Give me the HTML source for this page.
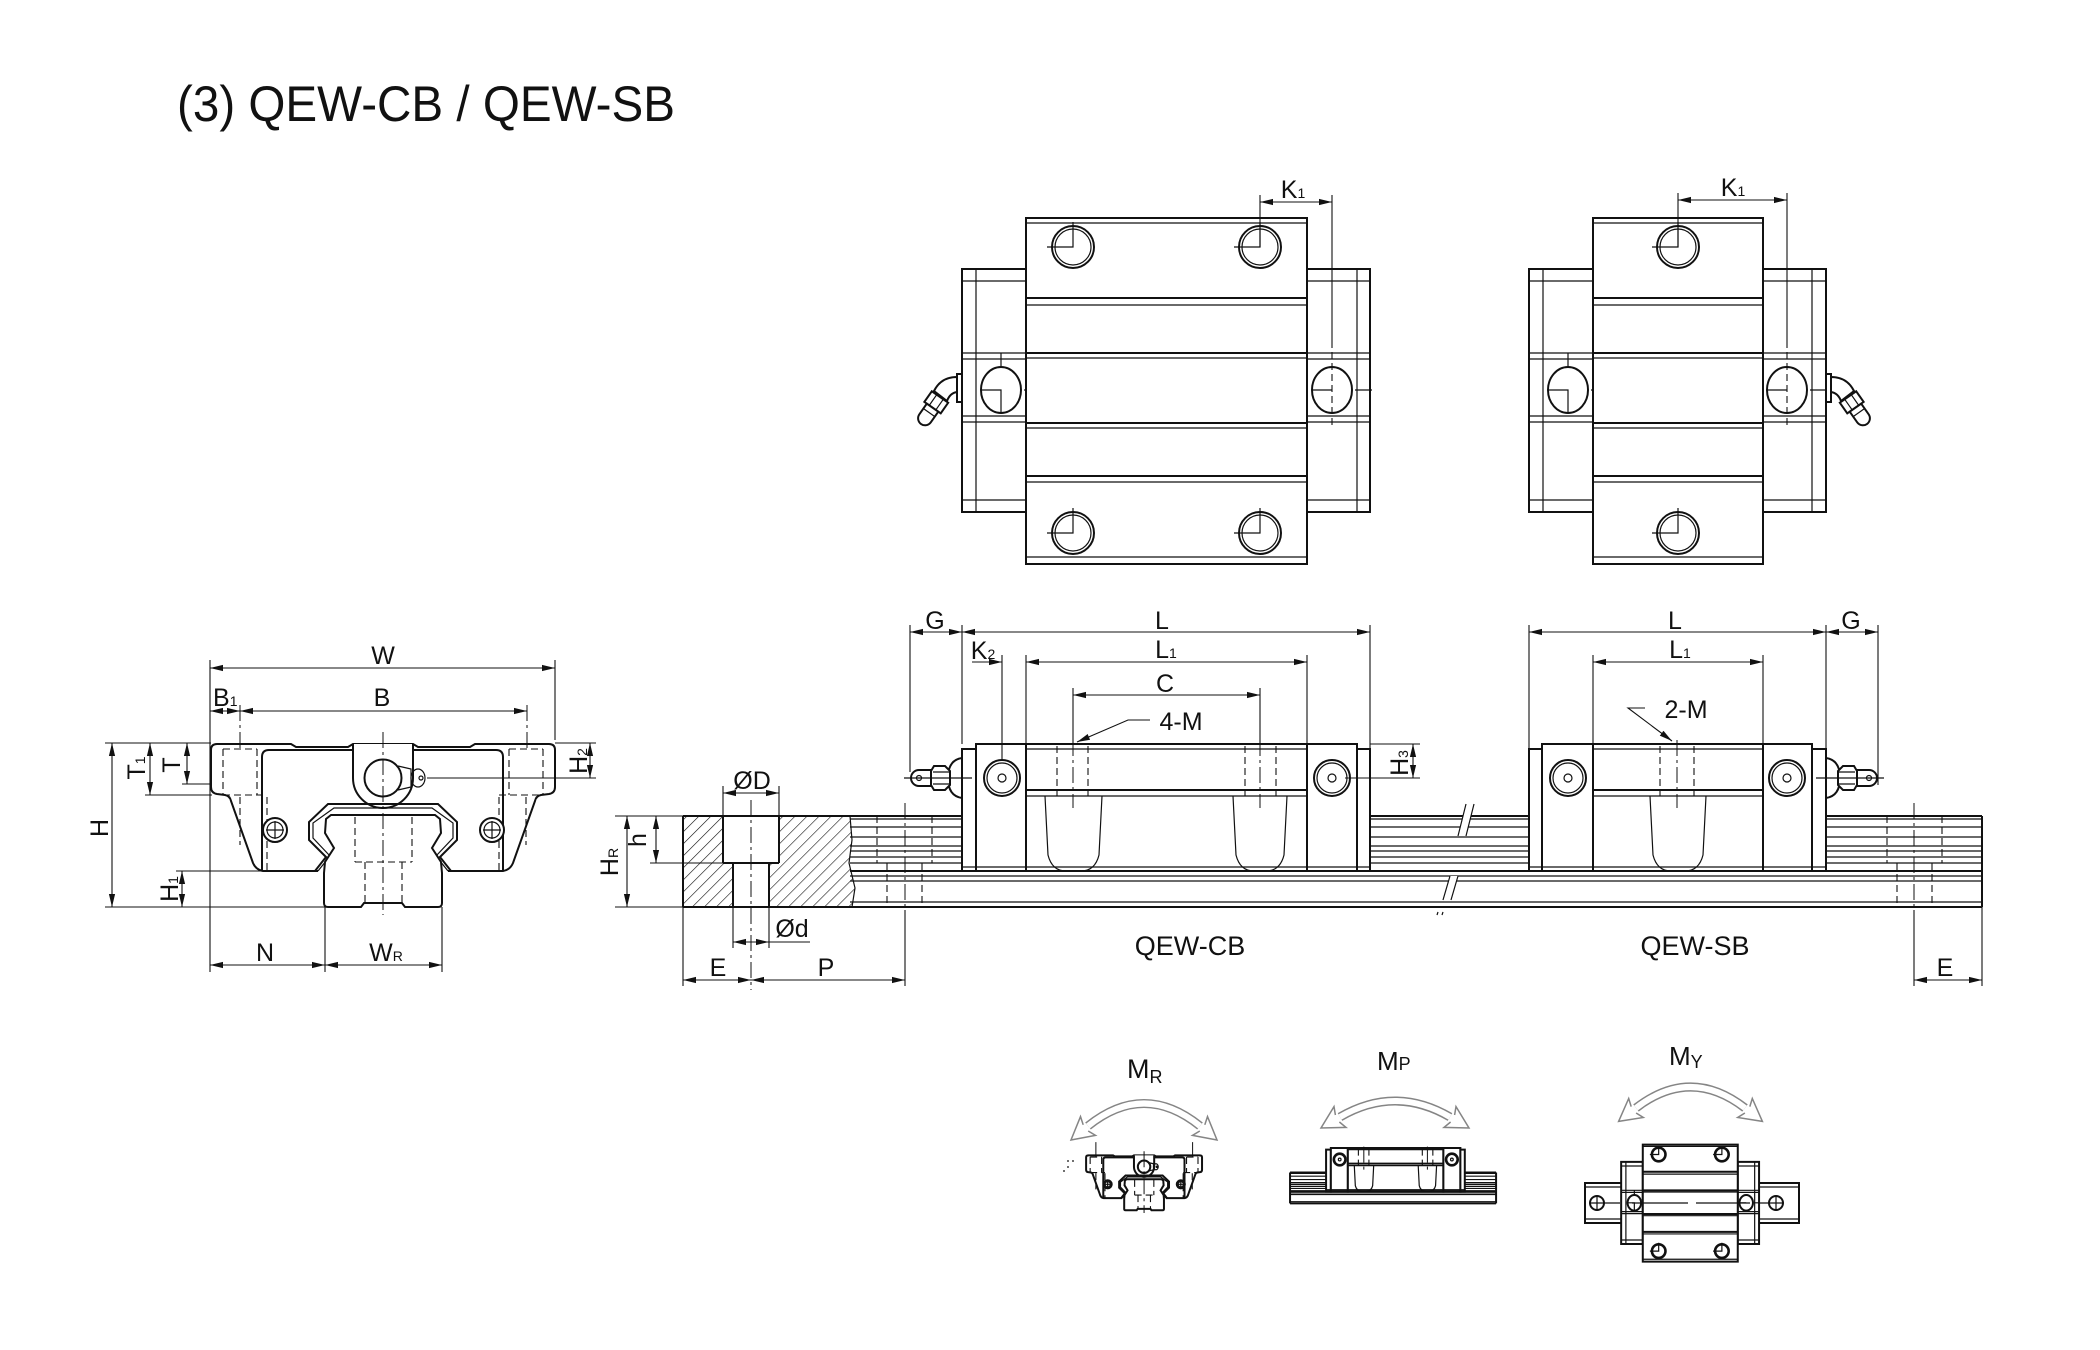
<!DOCTYPE html>
<html><head><meta charset="utf-8">
<style>
html,body{margin:0;padding:0;background:#fff;}
svg{display:block;}
text{font-family:"Liberation Sans",Arial,sans-serif;fill:#111;}
.o{fill:#fff;stroke:#111;stroke-width:2;vector-effect:non-scaling-stroke}
.l{fill:none;stroke:#111;stroke-width:2;vector-effect:non-scaling-stroke}
.t{fill:none;stroke:#111;stroke-width:1.2;vector-effect:non-scaling-stroke}
.d{fill:none;stroke:#111;stroke-width:1.1}
.h{fill:none;stroke:#111;stroke-width:1.1;stroke-dasharray:7 4;vector-effect:non-scaling-stroke}
.c{fill:none;stroke:#111;stroke-width:1;stroke-dasharray:16 4 3 4;vector-effect:non-scaling-stroke}
.lb{font-size:25px;}
.sb{font-size:14px;}
.ga{fill:none;stroke:#858585;stroke-width:9}
.gw{fill:none;stroke:#fff;stroke-width:6}
.gh{fill:#fff;stroke:#858585;stroke-width:1.5;stroke-linejoin:miter}
</style></head><body>
<svg width="2100" height="1350" viewBox="0 0 2100 1350" xmlns="http://www.w3.org/2000/svg">
<defs>
<marker id="a" markerUnits="userSpaceOnUse" markerWidth="14" markerHeight="8" refX="13" refY="4" orient="auto-start-reverse"><path d="M0,0.9 L13,4 L0,7.1 Z" fill="#111"/></marker>
<pattern id="hatch" patternUnits="userSpaceOnUse" width="8.5" height="8.5" patternTransform="rotate(45)"><line x1="0" y1="0" x2="0" y2="8.5" stroke="#111" stroke-width="1.2"/></pattern>

<!-- profile (end view) -->
<g id="prof">
<path class="o" d="M318,871 L263,871 Q256,870 253,863 L231,801 Q230,796 225,795 L217,794 Q211,793 211,787 L211,750 Q211,744 217,744 L291,744 L296,747 L348,747 L353,744 L413,744 L418,747 L470,747 L475,744 L549,744 Q555,744 555,750 L555,787 Q555,793 549,794 L541,795 Q536,796 535,801 L513,863 Q510,870 503,871 L448,871"/>
<path class="l" d="M262,870 L262,757 Q262,750 269,750 L496,750 Q503,750 503,757 L503,870"/>
<path class="h" d="M223,749V795 M257,749V795 M223,749H257 M223,795H267 M240,797V845 M267,797V870 M509,749V795 M543,749V795 M509,749H543 M499,795H543 M526,797V845 M499,797V870"/>
<path class="c" d="M240,705V750 M527,705V750"/>
<path class="o" d="M353,744 L353,778 A30,30 0 0 0 413,778 L413,744"/>
<circle class="o" cx="383" cy="778" r="18.5"/>
<path class="t" d="M398,766 L411,769 L411,787 L398,790"/>
<ellipse class="t" cx="418" cy="778" rx="7" ry="9"/>
<circle class="t" cx="421" cy="778" r="2"/>
<path class="l" d="M315,871 L326,857 L309,840 L309,822 L328,804 L438,804 L457,822 L457,840 L440,857 L451,871"/>
<path class="t" d="M318,871 L330,856 L313,838 L313,823 L334,808 L432,808 L453,823 L453,838 L436,856 L448,871"/>
<path class="o" d="M331,815 L435,815 L440,819 L441,833 L432,848 L441,862 L442,873 L442,903 Q442,907 438,907 L405,907 L402,903 L364,903 L361,907 L328,907 Q324,907 324,903 L324,873 L325,862 L334,848 L325,833 L326,819 Z"/>
<path class="h" d="M355,817V862 M412,817V862 M355,862H412 M365,862V903 M402,862V903"/>
<path class="c" d="M383,732V915"/>
<circle class="o" cx="275" cy="830" r="12"/>
<circle class="t" cx="275" cy="830" r="8"/>
<path class="t" d="M275,821V839 M266,830H284"/>
<circle class="o" cx="492" cy="830" r="12"/>
<circle class="t" cx="492" cy="830" r="8"/>
<path class="t" d="M492,821V839 M483,830H501"/>
</g>

<!-- CB carriage side view -->
<g id="cbcar">
<rect class="o" x="962" y="749" width="14" height="122"/>
<rect class="o" x="976" y="744" width="50" height="127"/>
<rect class="o" x="1026" y="744" width="281" height="127"/>
<rect class="o" x="1307" y="744" width="50" height="127"/>
<rect class="o" x="1357" y="749" width="13" height="122"/>
<path class="t" d="M1026,749H1307 M1026,796H1307 M962,867H1370"/>
<path class="l" d="M1026,790H1307"/>
<circle class="l" cx="1002" cy="778" r="18"/><circle class="t" cx="1002" cy="778" r="15"/><circle class="t" cx="1002" cy="778" r="4"/>
<circle class="l" cx="1332" cy="778" r="18"/><circle class="t" cx="1332" cy="778" r="15"/><circle class="t" cx="1332" cy="778" r="4"/>
<path class="t" d="M1045,796 L1048,855 Q1052,871 1066,871 L1081,871 Q1095,871 1099,855 L1102,796"/>
<path class="t" d="M1233,796 L1236,855 Q1240,871 1254,871 L1266,871 Q1280,871 1284,855 L1287,796"/>
<path class="h" d="M1057,746V796 M1088,746V796 M1245,746V796 M1276,746V796"/>
<path class="c" d="M1073,740V808 M1260,740V808"/>
</g>

<!-- CB top view -->
<g id="cbtop">
<rect class="o" x="962" y="269" width="64" height="243"/>
<rect class="o" x="1307" y="269" width="63" height="243"/>
<path class="t" d="M976,269V512 M1357,269V512 M962,281H1026 M962,353H1026 M962,359H1026 M962,416H1026 M962,422H1026 M962,500H1026 M1307,281H1370 M1307,353H1370 M1307,359H1370 M1307,416H1370 M1307,422H1370 M1307,500H1370"/>
<ellipse class="l" cx="1001" cy="390" rx="20" ry="23"/>
<ellipse class="l" cx="1332" cy="390" rx="20" ry="23"/>
<path class="t" d="M981,390H1001V412 M1001,353V367 M1024,390H1037 M1312,390H1332 M1355,390H1372"/>
<rect class="o" x="1026" y="218" width="281" height="346"/>
<path class="t" d="M1026,223H1307 M1026,305H1307 M1026,358H1307 M1026,428H1307 M1026,482H1307 M1026,557H1307"/>
<path class="l" d="M1026,298H1307 M1026,353H1307 M1026,423H1307 M1026,476H1307"/>
<circle class="l" cx="1073" cy="247" r="21"/><circle class="t" cx="1073" cy="247" r="18"/>
<circle class="l" cx="1260" cy="247" r="21"/><circle class="t" cx="1260" cy="247" r="18"/>
<circle class="l" cx="1073" cy="533" r="21"/><circle class="t" cx="1073" cy="533" r="18"/>
<circle class="l" cx="1260" cy="533" r="21"/><circle class="t" cx="1260" cy="533" r="18"/>
<path class="t" d="M1047,247H1073V222 M1234,247H1260V222 M1047,533H1073V508 M1234,533H1260V508"/>
</g>

<!-- side-view grease nipple (CB left) -->
<g id="nipS">
<path class="o" d="M962,758 Q948,760 948,778 Q948,796 962,798 Z"/>
<path class="o" d="M934,766 L945,766 L950,771 L950,785 L945,790 L934,790 L931,785 L931,771 Z"/>
<path class="t" d="M933,772H949 M933,784H949"/>
<path class="o" d="M931,770 L919,770 A8,8 0 0 0 919,786 L931,786 Z"/>
<circle class="t" cx="919" cy="778" r="2.5"/>
<path class="t" d="M904,778H972"/>
</g>

<!-- top-view grease nipple (CB left) -->
<g id="nipT">
<rect class="o" x="957" y="374" width="5" height="28"/>
<path class="o" d="M957,377 Q941,377 934,391 L947,401 Q950,393 957,392 Z"/>
<g transform="translate(940,397) rotate(125)">
<rect class="o" x="0" y="-10" width="13" height="20"/>
<path class="t" d="M0,-4H13 M0,4H13"/>
<path class="o" d="M13,-7 L26,-7 A7,7 0 0 1 26,7 L13,7 Z"/>
<path class="t" d="M19,-7V7"/>
</g>
</g>
</defs>

<!-- TITLE -->
<text x="177" y="121" font-size="50" textLength="498" lengthAdjust="spacingAndGlyphs">(3) QEW-CB / QEW-SB</text>

<!-- ================= PROFILE VIEW ================= -->
<use href="#prof"/>
<!-- profile dims -->
<path class="d" d="M210,660V972 M555,660V740 M105,743H211 M105,907H325 M145,795H212 M182,784H211 M176,871H263 M325,907V972 M442,907V972 M555,743H596 M427,778H596"/>
<line class="d" x1="210" y1="668" x2="555" y2="668" marker-start="url(#a)" marker-end="url(#a)"/>
<line class="d" x1="240" y1="711" x2="527" y2="711" marker-start="url(#a)" marker-end="url(#a)"/>
<line class="d" x1="210" y1="711" x2="240" y2="711" marker-start="url(#a)" marker-end="url(#a)"/>
<line class="d" x1="112" y1="743" x2="112" y2="907" marker-start="url(#a)" marker-end="url(#a)"/>
<line class="d" x1="150" y1="743" x2="150" y2="795" marker-start="url(#a)" marker-end="url(#a)"/>
<line class="d" x1="187" y1="743" x2="187" y2="784" marker-start="url(#a)" marker-end="url(#a)"/>
<line class="d" x1="182" y1="871" x2="182" y2="907" marker-start="url(#a)" marker-end="url(#a)"/>
<line class="d" x1="210" y1="965" x2="325" y2="965" marker-start="url(#a)" marker-end="url(#a)"/>
<line class="d" x1="325" y1="965" x2="442" y2="965" marker-start="url(#a)" marker-end="url(#a)"/>
<line class="d" x1="590" y1="743" x2="590" y2="778" marker-start="url(#a)" marker-end="url(#a)"/>
<text class="lb" x="383" y="664" text-anchor="middle">W</text>
<text class="lb" x="382" y="706" text-anchor="middle">B</text>
<text class="lb" x="213" y="706">B<tspan class="sb">1</tspan></text>
<text class="lb" transform="translate(108,828) rotate(-90)" text-anchor="middle">H</text>
<text class="lb" transform="translate(145,768) rotate(-90)" text-anchor="middle">T<tspan class="sb">1</tspan></text>
<text class="lb" transform="translate(180,765) rotate(-90)" text-anchor="middle">T</text>
<text class="lb" transform="translate(178,889) rotate(-90)" text-anchor="middle">H<tspan class="sb">1</tspan></text>
<text class="lb" transform="translate(587,761) rotate(-90)" text-anchor="middle">H<tspan class="sb">2</tspan></text>
<text class="lb" x="265" y="961" text-anchor="middle">N</text>
<text class="lb" x="386" y="961" text-anchor="middle">W<tspan class="sb">R</tspan></text>

<!-- ================= TOP VIEWS ================= -->
<use href="#cbtop"/>
<use href="#nipT"/>
<!-- K1 CB -->
<path class="d" d="M1260,195V247 M1332,195V348"/>
<path class="h" d="M1332,352V428"/>
<line class="d" x1="1260" y1="202" x2="1332" y2="202" marker-start="url(#a)" marker-end="url(#a)"/>
<text class="lb" x="1293" y="198" text-anchor="middle">K<tspan class="sb">1</tspan></text>

<!-- SB top view -->
<rect class="o" x="1529" y="269" width="64" height="243"/>
<rect class="o" x="1763" y="269" width="63" height="243"/>
<path class="t" d="M1543,269V512 M1812,269V512 M1529,281H1593 M1529,353H1593 M1529,359H1593 M1529,416H1593 M1529,422H1593 M1529,500H1593 M1763,281H1826 M1763,353H1826 M1763,359H1826 M1763,416H1826 M1763,422H1826 M1763,500H1826"/>
<ellipse class="l" cx="1568" cy="390" rx="20" ry="23"/>
<ellipse class="l" cx="1787" cy="390" rx="20" ry="23"/>
<path class="t" d="M1548,390H1568V412 M1568,353V367 M1591,390H1604 M1767,390H1787 M1810,390H1827"/>
<rect class="o" x="1593" y="218" width="170" height="346"/>
<path class="t" d="M1593,223H1763 M1593,305H1763 M1593,358H1763 M1593,428H1763 M1593,482H1763 M1593,557H1763"/>
<path class="l" d="M1593,298H1763 M1593,353H1763 M1593,423H1763 M1593,476H1763"/>
<circle class="l" cx="1678" cy="247" r="21"/><circle class="t" cx="1678" cy="247" r="18"/>
<circle class="l" cx="1678" cy="533" r="21"/><circle class="t" cx="1678" cy="533" r="18"/>
<path class="t" d="M1652,247H1678V222 M1652,533H1678V508"/>
<g transform="translate(2788,0) scale(-1,1)"><use href="#nipT"/></g>
<path class="d" d="M1678,193V247 M1787,193V348"/>
<path class="h" d="M1787,352V428"/>
<line class="d" x1="1678" y1="200" x2="1787" y2="200" marker-start="url(#a)" marker-end="url(#a)"/>
<text class="lb" x="1733" y="196" text-anchor="middle">K<tspan class="sb">1</tspan></text>

<!-- ================= SIDE VIEW ================= -->
<!-- rail lines -->
<path class="l" d="M850,816H1982 M850,871H1982 M850,907H1982 M1982,816V907"/>
<path class="t" d="M850,819H1982 M850,827H1982 M850,837H1982 M850,846H1982 M850,851H1982 M850,857H1982 M850,863H1982 M850,876H1982 M850,881H1982 M850,902H1982"/>
<!-- rail hidden holes -->
<path class="h" d="M877,816V863 M932,816V863 M877,863H932 M887,863V907 M922,863V907 M1887,816V863 M1942,816V863 M1887,863H1942 M1897,863V907 M1932,863V907"/>
<path class="c" d="M905,803V910 M1914,803V910"/>
<!-- break marks -->
<polygon points="1466,804 1474,804 1466,836 1458,836" fill="#fff"/>
<path class="t" d="M1466,804L1458,836 M1474,804L1466,836"/>
<polygon points="1450,876 1458,876 1451,900 1443,900" fill="#fff"/>
<path class="t" d="M1450,876L1443,900 M1458,876L1451,900"/>
<path class="t" d="M1438,912l-1,3 M1443,912l-1,3"/>

<!-- hatched section -->
<path d="M683,816 L850,816 L852,840 L849,863 L855,888 L852,907 L683,907 Z" fill="url(#hatch)"/>
<rect x="723" y="816" width="56" height="47" fill="#fff"/>
<rect x="733" y="862" width="36" height="45" fill="#fff"/>
<path class="l" d="M683,816H850 M683,907H852 M683,816V907"/>
<path class="t" d="M850,816 L852,840 L849,863 L855,888 L852,907"/>
<path class="l" d="M723,816V863 M779,816V863 M723,863H779 M733,863V907 M769,863V907"/>
<path class="c" d="M751,800V990"/>

<!-- CB carriage -->
<use href="#cbcar"/>
<use href="#nipS"/>
<!-- SB carriage -->
<rect class="o" x="1529" y="749" width="13" height="122"/>
<rect class="o" x="1542" y="744" width="51" height="127"/>
<rect class="o" x="1593" y="744" width="170" height="127"/>
<rect class="o" x="1763" y="744" width="49" height="127"/>
<rect class="o" x="1812" y="749" width="14" height="122"/>
<path class="t" d="M1593,749H1763 M1593,796H1763 M1529,867H1826"/>
<path class="l" d="M1593,790H1763"/>
<circle class="l" cx="1568" cy="778" r="18"/><circle class="t" cx="1568" cy="778" r="15"/><circle class="t" cx="1568" cy="778" r="4"/>
<circle class="l" cx="1787" cy="778" r="18"/><circle class="t" cx="1787" cy="778" r="15"/><circle class="t" cx="1787" cy="778" r="4"/>
<path class="t" d="M1650,796 L1653,855 Q1657,871 1671,871 L1685,871 Q1699,871 1703,855 L1706,796"/>
<path class="h" d="M1660,746V796 M1694,746V796"/>
<path class="c" d="M1677,740V808"/>
<g transform="translate(2788,0) scale(-1,1)"><use href="#nipS"/></g>

<!-- side dims CB -->
<path class="d" d="M910,625V772 M962,625V744 M1370,625V749 M1002,655V760 M1026,655V744 M1307,655V744 M1073,688V744 M1260,688V744 M1370,744H1420 M1345,778H1420"/>
<line class="d" x1="910" y1="632" x2="962" y2="632" marker-start="url(#a)" marker-end="url(#a)"/>
<line class="d" x1="962" y1="632" x2="1370" y2="632" marker-start="url(#a)" marker-end="url(#a)"/>
<line class="d" x1="972" y1="662" x2="1002" y2="662" marker-end="url(#a)"/>
<line class="d" x1="1026" y1="662" x2="1307" y2="662" marker-start="url(#a)" marker-end="url(#a)"/>
<line class="d" x1="1073" y1="695" x2="1260" y2="695" marker-start="url(#a)" marker-end="url(#a)"/>
<line class="d" x1="1413" y1="744" x2="1413" y2="778" marker-start="url(#a)" marker-end="url(#a)"/>
<polyline class="d" points="1150,720 1128,720 1077,742" marker-end="url(#a)"/>
<text class="lb" x="935" y="629" text-anchor="middle">G</text>
<text class="lb" x="1162" y="629" text-anchor="middle">L</text>
<text class="lb" x="983" y="659" text-anchor="middle">K<tspan class="sb">2</tspan></text>
<text class="lb" x="1166" y="658" text-anchor="middle">L<tspan class="sb">1</tspan></text>
<text class="lb" x="1165" y="692" text-anchor="middle">C</text>
<text class="lb" x="1181" y="730" text-anchor="middle">4-M</text>
<text class="lb" transform="translate(1408,763) rotate(-90)" text-anchor="middle">H<tspan class="sb">3</tspan></text>

<!-- side dims SB -->
<path class="d" d="M1529,625V749 M1826,625V749 M1878,625V785 M1593,655V744 M1763,655V744"/>
<line class="d" x1="1529" y1="632" x2="1826" y2="632" marker-start="url(#a)" marker-end="url(#a)"/>
<line class="d" x1="1826" y1="632" x2="1878" y2="632" marker-start="url(#a)" marker-end="url(#a)"/>
<line class="d" x1="1593" y1="662" x2="1763" y2="662" marker-start="url(#a)" marker-end="url(#a)"/>
<polyline class="d" points="1645,708 1628,708 1672,741" marker-end="url(#a)"/>
<text class="lb" x="1675" y="629" text-anchor="middle">L</text>
<text class="lb" x="1851" y="629" text-anchor="middle">G</text>
<text class="lb" x="1680" y="658" text-anchor="middle">L<tspan class="sb">1</tspan></text>
<text class="lb" x="1686" y="718" text-anchor="middle">2-M</text>

<!-- bottom dims -->
<path class="d" d="M615,816H683 M615,907H683 M650,863H723 M723,786V816 M779,786V816 M733,907V948 M769,907V948 M683,907V986 M905,910V986 M1914,910V986 M1982,907V986 M769,942H810"/>
<line class="d" x1="627" y1="816" x2="627" y2="907" marker-start="url(#a)" marker-end="url(#a)"/>
<line class="d" x1="656" y1="816" x2="656" y2="863" marker-start="url(#a)" marker-end="url(#a)"/>
<line class="d" x1="723" y1="793" x2="779" y2="793" marker-start="url(#a)" marker-end="url(#a)"/>
<line class="d" x1="733" y1="942" x2="769" y2="942" marker-start="url(#a)" marker-end="url(#a)"/>
<line class="d" x1="683" y1="980" x2="751" y2="980" marker-start="url(#a)" marker-end="url(#a)"/>
<line class="d" x1="751" y1="980" x2="905" y2="980" marker-start="url(#a)" marker-end="url(#a)"/>
<line class="d" x1="1914" y1="980" x2="1982" y2="980" marker-start="url(#a)" marker-end="url(#a)"/>
<text class="lb" transform="translate(618,862) rotate(-90)" text-anchor="middle">H<tspan class="sb">R</tspan></text>
<text class="lb" transform="translate(646,840) rotate(-90)" text-anchor="middle">h</text>
<text class="lb" x="752" y="789" text-anchor="middle">ØD</text>
<text class="lb" x="792" y="937" text-anchor="middle">Ød</text>
<text class="lb" x="718" y="976" text-anchor="middle">E</text>
<text class="lb" x="826" y="976" text-anchor="middle">P</text>
<text class="lb" x="1945" y="976" text-anchor="middle">E</text>
<text x="1190" y="955" font-size="27" text-anchor="middle">QEW-CB</text>
<text x="1695" y="955" font-size="27" text-anchor="middle">QEW-SB</text>

<!-- ================= MOMENT ICONS ================= -->
<!-- MR -->
<path class="ga" d="M1088,1126 Q1144,1081 1200,1126"/>
<path class="gw" d="M1088,1126 Q1144,1081 1200,1126"/>
<path class="gh" d="M1088.2,1131 L1095.5,1135.4 L1071,1140 L1080.5,1116.6 L1083.2,1124.8"/>
<path class="gh" d="M1199.8,1131 L1192.5,1135.4 L1217,1140 L1207.5,1116.6 L1204.8,1124.8"/>
<text x="1127" y="1078" font-size="27">M<tspan font-size="18" dy="5">R</tspan></text>
<use href="#prof" transform="translate(1015,904.6) scale(0.337)"/>
<path class="t" d="M1068,1160v2 M1068,1166v2 M1073,1160v2 M1064,1170v2"/>

<!-- MP -->
<path class="ga" d="M1340,1117 Q1395,1085 1450,1117"/>
<path class="gw" d="M1340,1117 Q1395,1085 1450,1117"/>
<path class="gh" d="M1339.4,1122 L1346,1127.4 L1321,1128 L1334,1106.6 L1335.4,1115"/>
<path class="gh" d="M1450.6,1122 L1444,1127.4 L1469,1128 L1456,1106.6 L1454.6,1115"/>
<text x="1377" y="1070" font-size="26">M<tspan font-size="18">P</tspan></text>
<g transform="translate(999,895) scale(0.34)">
<path class="l" d="M856,816H1462 M856,871H1462 M856,907H1462 M856,816V907 M1462,816V907"/>
<path class="t" d="M856,819H1462 M856,827H1462 M856,837H1462 M856,846H1462 M856,851H1462 M856,857H1462 M856,863H1462 M856,876H1462 M856,881H1462 M856,902H1462"/>
<use href="#cbcar"/>
</g>

<!-- MY -->
<path class="ga" d="M1636,1108 Q1690.5,1066 1745,1108"/>
<path class="gw" d="M1636,1108 Q1690.5,1066 1745,1108"/>
<path class="gh" d="M1636.1,1113 L1643.3,1117.5 L1618.6,1121.4 L1628.7,1098.5 L1631.2,1106.6"/>
<path class="gh" d="M1744.9,1113 L1737.7,1117.5 L1762.4,1121.4 L1752.3,1098.5 L1749.8,1106.6"/>
<text x="1669" y="1065" font-size="26">M<tspan font-size="18" dy="3">Y</tspan></text>
<rect class="o" x="1585" y="1183" width="214" height="40"/>
<path class="t" d="M1585,1187H1799 M1585,1219H1799"/>
<circle class="l" cx="1597" cy="1203" r="7"/>
<path class="t" d="M1597,1195V1211 M1589,1203H1620"/>
<circle class="l" cx="1776" cy="1203" r="7"/>
<path class="t" d="M1776,1195V1211 M1760,1203H1784"/>
<use href="#cbtop" transform="translate(1296,1071) scale(0.338)"/>
<path class="t" d="M1632,1203H1688 M1696,1203H1750"/>
</svg>
</body></html>
